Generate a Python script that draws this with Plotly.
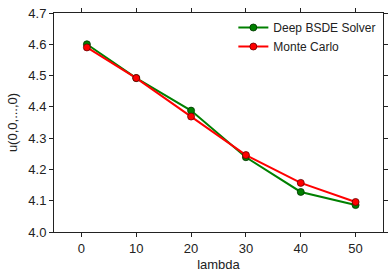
import plotly.graph_objects as go

lam = [1, 10, 20, 30, 40, 50]
bsde = [4.600, 4.492, 4.388, 4.239, 4.128, 4.086]
mc = [4.590, 4.492, 4.369, 4.246, 4.157, 4.096]

fig = go.Figure()
fig.add_trace(go.Scatter(x=lam, y=bsde, mode="lines+markers", name="Deep BSDE Solver",
                         line=dict(color="green", width=2),
                         marker=dict(color="green", size=7, line=dict(color="#003300", width=0.8))))
fig.add_trace(go.Scatter(x=lam, y=mc, mode="lines+markers", name="Monte Carlo",
                         line=dict(color="red", width=2),
                         marker=dict(color="red", size=7, line=dict(color="#660000", width=0.8))))

axis_common = dict(showline=True, linecolor="#222", linewidth=1, mirror="ticks",
                   ticks="outside", ticklen=4, tickcolor="#222", showgrid=False,
                   zeroline=False, automargin=False,
                   tickfont=dict(size=13, color="#222"))
fig.update_layout(
    width=390, height=280,
    margin=dict(l=54, r=7, t=13, b=48),
    paper_bgcolor="white", plot_bgcolor="white",
    font=dict(family="Liberation Sans, Arial, sans-serif", size=12, color="#222"),
    xaxis=dict(range=[-5, 55], tickvals=[0, 10, 20, 30, 40, 50],
               title=dict(text="lambda", standoff=5, font=dict(size=13)), **axis_common),
    yaxis=dict(range=[4.0, 4.7], tickvals=[4.0, 4.1, 4.2, 4.3, 4.4, 4.5, 4.6, 4.7],
               tickformat=".1f",
               title=dict(text="u(0,0,...,0)", standoff=7, font=dict(size=13)), **axis_common),
    legend=dict(x=0.995, y=1.0, xanchor="right", yanchor="top", bgcolor="rgba(0,0,0,0)",
                font=dict(size=12), itemwidth=30, tracegroupgap=0),
    showlegend=True,
)
fig.write_html("out.html", config={"displayModeBar": False},
               post_script="document.body.style.margin='0';document.body.style.padding='0';")
